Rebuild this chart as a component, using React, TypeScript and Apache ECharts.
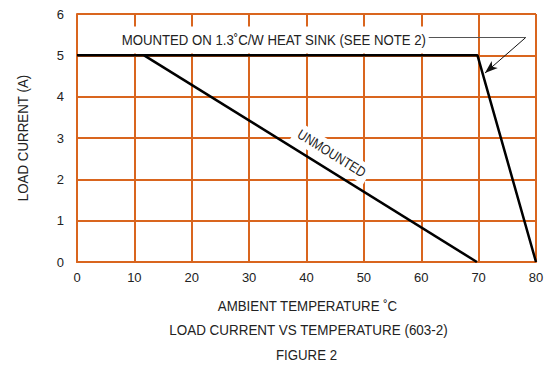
import React, { useEffect, useRef } from "react";
import * as echarts from "echarts";

const xTicksMin = 0;
const xTicksMax = 80;
const xInterval = 10;
const yMin = 0;
const yMax = 6;
const yInterval = 1;

const mountedX = [0, 69.8, 80];
const mountedY = [5, 5, 0];
const unmountedX = [11.7, 69.7];
const unmountedY = [5, 0];

const mountedLabel = "MOUNTED ON 1.3˚C/W HEAT SINK (SEE NOTE 2)";
const unmountedLabel = "UNMOUNTED";
const xAxisName = "AMBIENT TEMPERATURE ˚C";
const yAxisName = "LOAD CURRENT (A)";
const chartTitle = "LOAD CURRENT VS TEMPERATURE (603-2)";
const figureLabel = "FIGURE 2";

// annotation anchors (data space)
const leaderStart = [61.3, 5.43];
const leaderEnd = [78.2, 5.43];
const arrowTip = [71.1, 4.57];
const mountedLabelAnchor = [34.3, 5.37];
const unmountedLabelAnchor = [44.4, 2.63];

const FONT = "'Liberation Sans', Arial, sans-serif";
const ORANGE = "#d9651e";

export default function App() {
  const ref = useRef<HTMLDivElement>(null);
  useEffect(() => {
    document.body.style.margin = "0";
    if (!ref.current) return;
    const chart = echarts.init(ref.current, undefined, { renderer: "svg" });
    const mounted = mountedX.map((x, i) => [x, mountedY[i]]);
    const unmounted = unmountedX.map((x, i) => [x, unmountedY[i]]);
    chart.setOption({
      animation: false,
      backgroundColor: "#ffffff",
      textStyle: { fontFamily: FONT },
      grid: { left: 77, right: 19, top: 14, bottom: 104, containLabel: false },
      xAxis: {
        type: "value",
        min: xTicksMin,
        max: xTicksMax,
        interval: xInterval,
        axisLine: { show: true, lineStyle: { color: ORANGE, width: 2 } },
        axisTick: { show: false },
        axisLabel: { color: "#222", fontSize: 13, margin: 9, fontFamily: FONT },
        splitLine: { show: true, lineStyle: { color: ORANGE, width: 2 } },
      },
      yAxis: {
        type: "value",
        min: yMin,
        max: yMax,
        interval: yInterval,
        axisLine: { show: true, lineStyle: { color: ORANGE, width: 2 } },
        axisTick: { show: false },
        axisLabel: { color: "#222", fontSize: 13, margin: 13, fontFamily: FONT },
        splitLine: { show: true, lineStyle: { color: ORANGE, width: 2 } },
      },
      series: [
        {
          name: "Mounted",
          type: "line",
          data: mounted,
          symbol: "none",
          lineStyle: { color: "#000", width: 2.5 },
          z: 3,
          markLine: {
            silent: true,
            animation: false,
            label: { show: false },
            data: [
              [
                { coord: leaderStart, symbol: "none", lineStyle: { color: "#555", width: 1, type: "solid" } },
                { coord: leaderEnd, symbol: "none" },
              ],
              [
                { coord: leaderEnd, symbol: "none", lineStyle: { color: "#111", width: 1, type: "solid" } },
                { coord: arrowTip, symbol: "arrow", symbolSize: [7, 13] },
              ],
            ],
          },
        },
        {
          name: "Unmounted",
          type: "line",
          data: unmounted,
          symbol: "none",
          lineStyle: { color: "#000", width: 2.5 },
          z: 3,
        },
      ],
    });

    const p1 = chart.convertToPixel({ gridIndex: 0 }, mountedLabelAnchor) as number[];
    const p2 = chart.convertToPixel({ gridIndex: 0 }, unmountedLabelAnchor) as number[];
    const u0 = chart.convertToPixel({ gridIndex: 0 }, unmounted[0]) as number[];
    const u1 = chart.convertToPixel({ gridIndex: 0 }, unmounted[1]) as number[];
    const angle = -Math.atan2(u1[1] - u0[1], u1[0] - u0[0]);
    const o = chart.convertToPixel({ gridIndex: 0 }, [0, 0]) as number[];
    const e = chart.convertToPixel({ gridIndex: 0 }, [80, 6]) as number[];
    const cx = (o[0] + e[0]) / 2;
    const cy = (o[1] + e[1]) / 2;

    chart.setOption({
      graphic: [
        {
          type: "text",
          z: 1,
          x: p1[0],
          y: p1[1],
          scaleX: 0.88,
          style: {
            text: mountedLabel,
            font: `15px ${FONT}`,
            fill: "#222",
            align: "center",
            verticalAlign: "middle",
            backgroundColor: "#fff",
            padding: [6, 5],
          },
        },
        {
          type: "text",
          z: 1,
          x: p2[0],
          y: p2[1],
          rotation: angle,
          scaleX: 0.85,
          style: {
            text: unmountedLabel,
            font: `14px ${FONT}`,
            fill: "#222",
            align: "center",
            verticalAlign: "middle",
            backgroundColor: "#fff",
            padding: [3, 5],
          },
        },
        {
          type: "text",
          x: 23,
          y: cy,
          rotation: Math.PI / 2,
          scaleX: 0.89,
          style: {
            text: yAxisName,
            font: `15px ${FONT}`,
            fill: "#222",
            align: "center",
            verticalAlign: "middle",
          },
        },
        {
          type: "text",
          x: cx + 1,
          y: 306,
          scaleX: 0.95,
          style: { text: xAxisName, font: `14px ${FONT}`, fill: "#222", align: "center", verticalAlign: "middle" },
        },
        {
          type: "text",
          x: cx + 2,
          y: 330,
          scaleX: 0.96,
          style: { text: chartTitle, font: `14px ${FONT}`, fill: "#222", align: "center", verticalAlign: "middle" },
        },
        {
          type: "text",
          x: cx,
          y: 355,
          scaleX: 0.945,
          style: { text: figureLabel, font: `14px ${FONT}`, fill: "#222", align: "center", verticalAlign: "middle" },
        },
      ],
    });

    return () => chart.dispose();
  }, []);
  return <div ref={ref} style={{ width: 555, height: 366 }} />;
}
